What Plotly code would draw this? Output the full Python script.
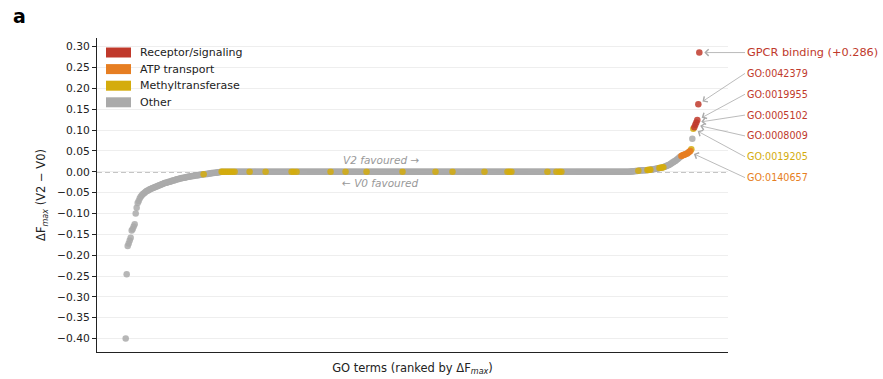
import plotly.graph_objects as go

# ---------------- data ----------------
# sorted ΔF_max values (rank order). Negative tail, near-zero plateau, positive tail.
neg_values = [
    -0.400, -0.246, -0.178, -0.172, -0.165, -0.158, -0.141, -0.137, -0.131, -0.126,
    -0.100, -0.086, -0.075, -0.070, -0.064, -0.060, -0.057, -0.054, -0.052, -0.050,
    -0.048, -0.046, -0.045, -0.044, -0.042, -0.041, -0.040, -0.039, -0.038, -0.037,
    -0.036, -0.035, -0.034, -0.033, -0.032, -0.031, -0.030, -0.029, -0.028, -0.027,
    -0.026, -0.026, -0.025, -0.024, -0.024, -0.023, -0.022, -0.021, -0.021, -0.020,
    -0.019, -0.018, -0.018, -0.017, -0.016, -0.016, -0.015, -0.015, -0.014, -0.014,
    -0.013, -0.013, -0.012, -0.012, -0.011, -0.011, -0.010, -0.010, -0.010, -0.009,
    -0.009, -0.008, -0.008, -0.008, -0.007, -0.007, -0.007, -0.006, -0.006, -0.006,
    -0.005, -0.005, -0.005, -0.004, -0.004, -0.004, -0.003, -0.003, -0.003, -0.002,
    -0.002, -0.002, -0.001, -0.001, -0.001,
]
n_plateau = 410  # terms with ΔF_max ≈ 0
pos_values = [
    0.001, 0.001, 0.001, 0.0015, 0.0015, 0.002, 0.002, 0.002, 0.0025, 0.003,
    0.003, 0.003, 0.0035, 0.0035, 0.004, 0.004, 0.004, 0.0045, 0.0045, 0.005,
    0.005, 0.0055, 0.006, 0.006, 0.0065, 0.007, 0.0075, 0.008, 0.0085, 0.009,
    0.0095, 0.010, 0.0105, 0.011, 0.012, 0.013, 0.014, 0.015, 0.016, 0.017,
    0.019, 0.020, 0.022, 0.023, 0.025, 0.026, 0.028, 0.030, 0.032, 0.034,
    0.036, 0.038, 0.039, 0.040, 0.041, 0.042, 0.043, 0.044, 0.046, 0.048,
    0.050, 0.054, 0.079, 0.103, 0.107, 0.113, 0.118, 0.124, 0.162, 0.286,
]
values = neg_values + [0.0] * n_plateau + pos_values

# category membership by rank
methyl_ranks = [78, 96, 97, 99, 101, 103, 105, 107, 109, 124, 140, 166, 168, 171,
                205, 220, 241, 277, 310, 327, 359, 382, 384, 386, 422, 431, 434,
                436, 513, 522, 523, 524, 525, 534, 535, 537, 538, 566, 568]
atp_ranks = [556, 557, 558, 559, 560, 562, 563, 564, 565]
receptor_ranks = [569, 570, 571, 572, 573, 574]

categories = ["Receptor/signaling", "ATP transport", "Methyltransferase", "Other"]
cat_colors = {"Receptor/signaling": "#c0392b", "ATP transport": "#e67e22",
              "Methyltransferase": "#d4ac0d", "Other": "#aaaaaa"}

# annotated terms
ann_labels = ["GPCR binding (+0.286)", "GO:0042379", "GO:0019955", "GO:0005102",
              "GO:0008009", "GO:0019205", "GO:0140657"]
ann_ranks = [574, 573, 572, 571, 570, 568, 564]
ann_cats = ["Receptor/signaling"] * 5 + ["Methyltransferase", "ATP transport"]

ytick_vals = [-0.40, -0.35, -0.30, -0.25, -0.20, -0.15, -0.10, -0.05,
              0.00, 0.05, 0.10, 0.15, 0.20, 0.25, 0.30]
ytick_text = [("−" if v < 0 else "") + f"{abs(v):.2f}" for v in ytick_vals]

# ---------------- layout constants ----------------
W, H = 883, 379
ML, MR, MT, MB = 97, 155, 38, 27
PW, PH = W - ML - MR, H - MT - MB
FONT = "DejaVu Sans"


def px_x(px):
    return (px - ML) / PW


def px_y(py):
    return (H - MB - py) / PH


n = len(values)
ranks = list(range(n))
cat_of = ["Other"] * n
for r in methyl_ranks:
    cat_of[r] = "Methyltransferase"
for r in atp_ranks:
    cat_of[r] = "ATP transport"
for r in receptor_ranks:
    cat_of[r] = "Receptor/signaling"

fig = go.Figure()

# data points: Other first, then highlighted categories on top
for cat in ["Other", "Methyltransferase", "ATP transport", "Receptor/signaling"]:
    xs = [r for r in ranks if cat_of[r] == cat]
    ys = [values[r] for r in xs]
    fig.add_trace(go.Scatter(
        x=xs, y=ys, mode="markers", name=cat, showlegend=False, hoverinfo="skip",
        marker=dict(size=6.5, color=cat_colors[cat], opacity=0.85, line=dict(width=0)),
    ))

xr = [-0.05 * (n - 1), 1.05 * (n - 1)]
yr = [-0.4322, 0.3209]

annotations = []
shapes = [dict(type="line", xref="x domain", yref="y", x0=0, x1=1, y0=0, y1=0,
               line=dict(color="#8c8c8c", width=1.3, dash="5px,3px"), layer="below")]

# legend (patches + labels) drawn in the top-left corner of the axes
for i, cat in enumerate(categories):
    cy = 52.5 + 16.6 * i
    shapes.append(dict(type="rect", xref="paper", yref="paper",
                       x0=px_x(106), x1=px_x(131), y0=px_y(cy + 5), y1=px_y(cy - 5),
                       fillcolor=cat_colors[cat], line=dict(width=0), layer="above"))
    annotations.append(dict(x=px_x(138), y=px_y(cy), xref="paper", yref="paper",
                            text=cat, xanchor="left", yanchor="middle", showarrow=False,
                            font=dict(family=FONT, size=11, color="#222222")))

text_x = xr[0] + (748 - 3 - ML) / PW * (xr[1] - xr[0])
for k, (lab, r, c) in enumerate(zip(ann_labels, ann_ranks, ann_cats)):
    ty = values[ann_ranks[0]] - 0.05 * k
    annotations.append(dict(
        x=r, y=values[r], xref="x", yref="y",
        ax=text_x, ay=ty, axref="x", ayref="y",
        text=lab, xanchor="left", yanchor="middle",
        showarrow=True, arrowhead=4, arrowsize=1.6, arrowwidth=0.8,
        arrowcolor="#aaaaaa", standoff=5,
        font=dict(family=FONT, size=11.3 if k == 0 else 9.6, color=cat_colors[c]),
    ))

annotations += [
    dict(x=0.45, y=0.028, xref="x domain", yref="y", text="<i>V2 favoured →</i>",
         showarrow=False, font=dict(family=FONT, size=10.5, color="#999999")),
    dict(x=0.45, y=-0.028, xref="x domain", yref="y", text="<i>← V0 favoured</i>",
         showarrow=False, font=dict(family=FONT, size=10.5, color="#999999")),
    dict(x=px_x(11), y=px_y(16), xref="paper", yref="paper", text="<b>a</b>",
         xanchor="left", yanchor="middle", showarrow=False,
         font=dict(family=FONT, size=19, color="#000000")),
]

fig.update_layout(
    width=W, height=H,
    margin=dict(l=ML, r=MR, t=MT, b=MB, autoexpand=False),
    paper_bgcolor="white", plot_bgcolor="white",
    font=dict(family=FONT, size=11, color="#222222"),
    showlegend=False,
    xaxis=dict(range=xr, showgrid=False, zeroline=False, showticklabels=False,
               ticks="", showline=True, linecolor="#222222", linewidth=1.2,
               title=dict(text="GO terms (ranked by ΔF<sub><i>max</i></sub>)",
                          font=dict(family=FONT, size=11.5, color="#222222"),
                          standoff=11)),
    yaxis=dict(range=yr, tickvals=ytick_vals, ticktext=ytick_text,
               showgrid=True, gridcolor="#eeeeee", gridwidth=0.8, zeroline=False,
               ticks="outside", ticklen=4, tickwidth=1, tickcolor="#222222",
               showline=True, linecolor="#222222", linewidth=1.2,
               tickfont=dict(family=FONT, size=10.7, color="#222222"),
               title=dict(text="ΔF<sub><i>max</i></sub> (V2 − V0)",
                          font=dict(family=FONT, size=11.5, color="#222222"),
                          standoff=8)),
    shapes=shapes,
    annotations=annotations,
)

fig.write_html("out.html")
